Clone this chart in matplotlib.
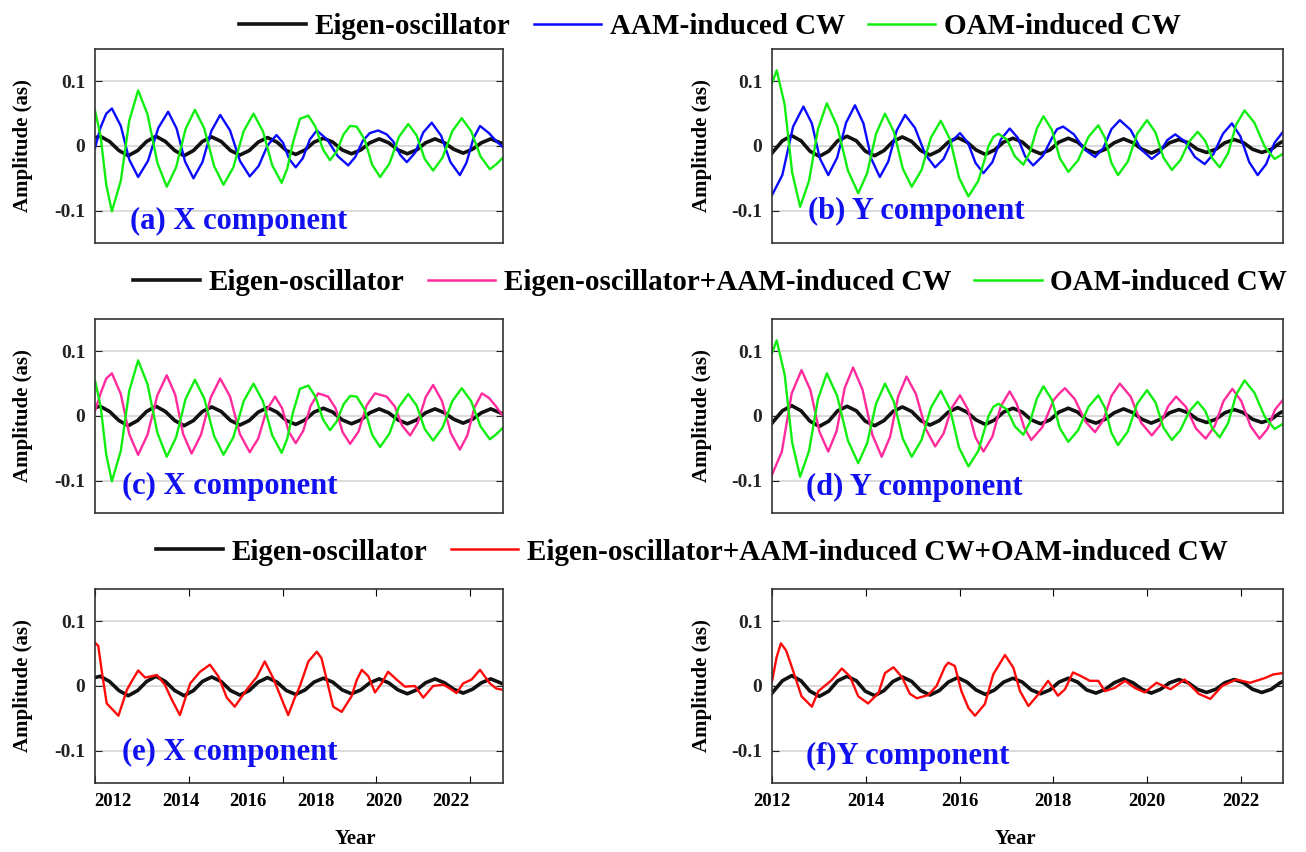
import matplotlib.pyplot as plt
from matplotlib.lines import Line2D

plt.rcParams["font.family"] = ["Liberation Serif", "DejaVu Serif"]
plt.rcParams["font.weight"] = "bold"
plt.rcParams["axes.labelweight"] = "bold"

# ---- series (year, amplitude in as) ----
eigen_x_t = [2012.00, 2012.11, 2012.31, 2012.51, 2012.71, 2012.91, 2013.10, 2013.30, 2013.50, 2013.70,
             2013.90, 2014.10, 2014.29, 2014.49, 2014.69, 2014.89, 2015.09, 2015.29, 2015.48, 2015.68,
             2015.88, 2016.08, 2016.28, 2016.48, 2016.67, 2016.87, 2017.07, 2017.27, 2017.47, 2017.67,
             2017.86, 2018.06, 2018.26, 2018.46, 2018.66, 2018.86, 2019.05, 2019.25, 2019.45, 2019.65,
             2019.85, 2020.05, 2020.24, 2020.44, 2020.64, 2020.70]
eigen_x_v = [0.013, 0.015, 0.007, -0.007, -0.015, -0.007, 0.007, 0.015, 0.007, -0.007,
             -0.015, -0.007, 0.007, 0.014, 0.007, -0.007, -0.014, -0.007, 0.006, 0.013,
             0.006, -0.007, -0.013, -0.006, 0.006, 0.012, 0.006, -0.006, -0.012, -0.006,
             0.005, 0.011, 0.005, -0.006, -0.012, -0.006, 0.005, 0.011, 0.005, -0.005,
             -0.011, -0.005, 0.005, 0.011, 0.005, 0.003]

eigen_y_t = [2012.00, 2012.22, 2012.42, 2012.62, 2012.81, 2013.01, 2013.21, 2013.40, 2013.60, 2013.80,
             2013.99, 2014.19, 2014.39, 2014.58, 2014.78, 2014.98, 2015.17, 2015.37, 2015.57, 2015.76,
             2015.96, 2016.16, 2016.35, 2016.55, 2016.75, 2016.94, 2017.14, 2017.34, 2017.53, 2017.73,
             2017.93, 2018.12, 2018.32, 2018.52, 2018.71, 2018.91, 2019.11, 2019.30, 2019.50, 2019.70,
             2019.89, 2020.09, 2020.29, 2020.48, 2020.68, 2020.88, 2021.07, 2021.27, 2021.47, 2021.66,
             2021.86, 2022.06, 2022.25, 2022.45, 2022.65, 2022.84, 2022.90]
eigen_y_v = [-0.011, 0.008, 0.016, 0.008, -0.008, -0.016, -0.008, 0.008, 0.015, 0.008,
             -0.008, -0.015, -0.007, 0.007, 0.014, 0.007, -0.007, -0.014, -0.007, 0.006,
             0.013, 0.006, -0.006, -0.013, -0.006, 0.006, 0.012, 0.006, -0.006, -0.012,
             -0.006, 0.006, 0.012, 0.006, -0.006, -0.011, -0.005, 0.005, 0.011, 0.005,
             -0.005, -0.011, -0.005, 0.005, 0.010, 0.005, -0.005, -0.010, -0.005, 0.005,
             0.010, 0.005, -0.005, -0.010, -0.005, 0.005, 0.007]

aam_x_t = [2012.00, 2012.12, 2012.24, 2012.36, 2012.55, 2012.73, 2012.92, 2013.13, 2013.35, 2013.56,
           2013.74, 2013.92, 2014.10, 2014.29, 2014.48, 2014.67, 2014.88, 2015.09, 2015.30, 2015.49,
           2015.68, 2015.87, 2016.01, 2016.14, 2016.28, 2016.43, 2016.58, 2016.73, 2016.95, 2017.18,
           2017.40, 2017.55, 2017.71, 2017.86, 2018.04, 2018.22, 2018.36, 2018.51, 2018.65, 2018.83,
           2019.00, 2019.18, 2019.38, 2019.58, 2019.78, 2019.92, 2020.07, 2020.21, 2020.40, 2020.55,
           2020.70]
aam_x_v = [-0.003, 0.029, 0.050, 0.058, 0.031, -0.021, -0.048, -0.023, 0.028, 0.053,
           0.027, -0.024, -0.050, -0.025, 0.023, 0.048, 0.024, -0.023, -0.047, -0.031,
           0.001, 0.017, 0.005, -0.020, -0.033, -0.019, 0.010, 0.024, 0.010, -0.016,
           -0.030, -0.017, 0.008, 0.020, 0.024, 0.018, 0.007, -0.014, -0.025, -0.010,
           0.021, 0.036, 0.016, -0.025, -0.045, -0.026, 0.012, 0.031, 0.020, 0.008,
           -0.002]

oam_x_t = [2012.00, 2012.12, 2012.24, 2012.36, 2012.55, 2012.73, 2012.92, 2013.12, 2013.33, 2013.53,
           2013.73, 2013.93, 2014.13, 2014.33, 2014.54, 2014.74, 2014.95, 2015.17, 2015.38, 2015.58,
           2015.78, 2015.98, 2016.10, 2016.22, 2016.37, 2016.55, 2016.70, 2016.86, 2017.01, 2017.15,
           2017.30, 2017.44, 2017.58, 2017.75, 2017.91, 2018.08, 2018.28, 2018.48, 2018.68, 2018.86,
           2019.03, 2019.21, 2019.41, 2019.62, 2019.82, 2020.02, 2020.22, 2020.42, 2020.56, 2020.70]
oam_x_v = [0.055, 0.015, -0.060, -0.101, -0.054, 0.039, 0.086, 0.049, -0.026, -0.063,
           -0.033, 0.026, 0.056, 0.027, -0.031, -0.060, -0.033, 0.023, 0.050, 0.023,
           -0.030, -0.057, -0.035, 0.005, 0.042, 0.047, 0.030, -0.005, -0.022, -0.009,
           0.018, 0.031, 0.030, 0.010, -0.029, -0.048, -0.027, 0.014, 0.034, 0.016,
           -0.020, -0.038, -0.018, 0.023, 0.043, 0.023, -0.016, -0.036, -0.028, -0.018]

eig_aam_x_t = [2012.00, 2012.12, 2012.24, 2012.36, 2012.55, 2012.73, 2012.92, 2013.12, 2013.33, 2013.53,
               2013.71, 2013.88, 2014.06, 2014.26, 2014.47, 2014.67, 2014.88, 2015.09, 2015.30, 2015.48,
               2015.66, 2015.84, 2015.99, 2016.13, 2016.28, 2016.44, 2016.60, 2016.76, 2016.97, 2017.13,
               2017.28, 2017.44, 2017.62, 2017.79, 2017.97, 2018.22, 2018.39, 2018.55, 2018.72, 2018.88,
               2019.05, 2019.21, 2019.40, 2019.59, 2019.78, 2019.94, 2020.09, 2020.25, 2020.40, 2020.55,
               2020.70]
eig_aam_x_v = [0.008, 0.035, 0.058, 0.066, 0.034, -0.028, -0.060, -0.029, 0.032, 0.063,
               0.033, -0.028, -0.058, -0.029, 0.029, 0.058, 0.030, -0.028, -0.056, -0.035,
               0.009, 0.030, 0.012, -0.024, -0.042, -0.023, 0.016, 0.035, 0.030, 0.012,
               -0.025, -0.043, -0.024, 0.016, 0.035, 0.030, 0.015, -0.015, -0.030, -0.011,
               0.029, 0.048, 0.023, -0.027, -0.052, -0.030, 0.013, 0.035, 0.028, 0.015,
               0.000]

total_x_t = [2012.00, 2012.07, 2012.15, 2012.25, 2012.50, 2012.68, 2012.78, 2012.92, 2013.07, 2013.32,
             2013.49, 2013.63, 2013.81, 2014.03, 2014.24, 2014.45, 2014.63, 2014.81, 2014.98, 2015.23,
             2015.45, 2015.62, 2015.80, 2016.12, 2016.25, 2016.37, 2016.55, 2016.73, 2016.83, 2016.94,
             2017.08, 2017.26, 2017.47, 2017.58, 2017.69, 2017.83, 2017.97, 2018.11, 2018.25, 2018.43,
             2018.61, 2018.82, 2019.00, 2019.21, 2019.43, 2019.57, 2019.71, 2019.85, 2020.03, 2020.21,
             2020.42, 2020.56, 2020.70]
total_x_v = [0.067, 0.062, 0.020, -0.027, -0.046, -0.006, 0.007, 0.024, 0.013, 0.017,
             0.002, -0.020, -0.045, 0.004, 0.022, 0.033, 0.015, -0.018, -0.032, -0.006,
             0.014, 0.038, 0.012, -0.045, -0.020, 0.000, 0.038, 0.053, 0.043, 0.010,
             -0.032, -0.040, -0.016, 0.009, 0.025, 0.015, -0.010, 0.004, 0.022, 0.010,
             -0.001, 0.000, -0.018, 0.000, 0.002, -0.004, -0.011, 0.004, 0.010, 0.025,
             0.004, -0.004, -0.006]

aam_y_t = [2012.00, 2012.22, 2012.45, 2012.67, 2012.85, 2013.02, 2013.20, 2013.39, 2013.58, 2013.77,
           2013.95, 2014.12, 2014.30, 2014.48, 2014.66, 2014.84, 2015.05, 2015.27, 2015.48, 2015.66,
           2015.83, 2016.01, 2016.18, 2016.34, 2016.51, 2016.70, 2016.88, 2017.07, 2017.24, 2017.40,
           2017.57, 2017.78, 2017.99, 2018.08, 2018.21, 2018.44, 2018.66, 2018.89, 2019.07, 2019.24,
           2019.42, 2019.65, 2019.87, 2020.10, 2020.27, 2020.43, 2020.60, 2020.81, 2021.02, 2021.23,
           2021.42, 2021.62, 2021.81, 2021.99, 2022.18, 2022.36, 2022.54, 2022.72, 2022.90]
aam_y_v = [-0.076, -0.045, 0.030, 0.061, 0.035, -0.019, -0.045, -0.018, 0.036, 0.063,
           0.035, -0.020, -0.048, -0.024, 0.024, 0.048, 0.028, -0.013, -0.033, -0.020,
           0.007, 0.020, 0.005, -0.026, -0.042, -0.025, 0.010, 0.027, 0.013, -0.016,
           -0.030, -0.015, 0.015, 0.026, 0.030, 0.018, -0.005, -0.017, -0.003, 0.026,
           0.040, 0.025, -0.005, -0.020, -0.010, 0.009, 0.018, 0.007, -0.017, -0.028,
           -0.012, 0.019, 0.035, 0.015, -0.025, -0.045, -0.028, 0.005, 0.022]

oam_y_t = [2012.00, 2012.10, 2012.27, 2012.43, 2012.60, 2012.79, 2012.98, 2013.17, 2013.39, 2013.62,
           2013.84, 2014.03, 2014.22, 2014.41, 2014.60, 2014.79, 2014.98, 2015.19, 2015.39, 2015.60,
           2015.80, 2015.99, 2016.19, 2016.40, 2016.62, 2016.72, 2016.83, 2017.01, 2017.18, 2017.36,
           2017.50, 2017.65, 2017.79, 2017.97, 2018.14, 2018.32, 2018.53, 2018.75, 2018.96, 2019.10,
           2019.24, 2019.38, 2019.59, 2019.79, 2020.00, 2020.18, 2020.35, 2020.53, 2020.71, 2020.90,
           2021.08, 2021.24, 2021.39, 2021.55, 2021.73, 2021.90, 2022.08, 2022.29, 2022.51, 2022.72,
           2022.90]
oam_y_v = [0.097, 0.117, 0.064, -0.041, -0.094, -0.054, 0.026, 0.066, 0.031, -0.038,
           -0.073, -0.042, 0.019, 0.050, 0.022, -0.035, -0.063, -0.037, 0.013, 0.039,
           0.010, -0.049, -0.078, -0.054, 0.000, 0.014, 0.019, 0.010, -0.016, -0.029,
           -0.010, 0.027, 0.046, 0.025, -0.019, -0.040, -0.022, 0.014, 0.032, 0.013,
           -0.026, -0.045, -0.024, 0.019, 0.040, 0.021, -0.018, -0.037, -0.022, 0.007,
           0.022, 0.008, -0.019, -0.033, -0.011, 0.033, 0.055, 0.036, -0.001, -0.020,
           -0.012]

eig_aam_y_t = [2012.00, 2012.21, 2012.42, 2012.63, 2012.82, 2013.01, 2013.20, 2013.38, 2013.55, 2013.73,
               2013.93, 2014.14, 2014.34, 2014.52, 2014.69, 2014.87, 2015.07, 2015.28, 2015.48, 2015.66,
               2015.83, 2016.01, 2016.18, 2016.34, 2016.51, 2016.70, 2016.88, 2017.07, 2017.22, 2017.38,
               2017.53, 2017.77, 2018.01, 2018.13, 2018.25, 2018.46, 2018.68, 2018.89, 2019.07, 2019.24,
               2019.42, 2019.65, 2019.87, 2020.10, 2020.27, 2020.45, 2020.62, 2020.83, 2021.04, 2021.25,
               2021.44, 2021.63, 2021.82, 2022.01, 2022.21, 2022.40, 2022.57, 2022.73, 2022.90]
eig_aam_y_v = [-0.091, -0.055, 0.035, 0.071, 0.040, -0.024, -0.055, -0.023, 0.043, 0.075,
               0.041, -0.029, -0.063, -0.032, 0.030, 0.061, 0.034, -0.020, -0.047, -0.027,
               0.012, 0.032, 0.010, -0.033, -0.055, -0.032, 0.015, 0.038, 0.019, -0.018,
               -0.037, -0.017, 0.025, 0.035, 0.043, 0.026, -0.008, -0.025, -0.006, 0.031,
               0.050, 0.030, -0.010, -0.030, -0.015, 0.015, 0.030, 0.014, -0.019, -0.035,
               -0.016, 0.023, 0.042, 0.023, -0.016, -0.035, -0.020, 0.010, 0.025]

total_y_t = [2012.00, 2012.10, 2012.19, 2012.30, 2012.42, 2012.63, 2012.85, 2012.99, 2013.27, 2013.49,
             2013.66, 2013.84, 2014.05, 2014.27, 2014.41, 2014.59, 2014.77, 2014.94, 2015.09, 2015.33,
             2015.51, 2015.69, 2015.76, 2015.90, 2016.04, 2016.19, 2016.33, 2016.54, 2016.72, 2016.97,
             2017.15, 2017.29, 2017.47, 2017.68, 2017.89, 2018.10, 2018.25, 2018.42, 2018.60, 2018.78,
             2018.96, 2019.10, 2019.31, 2019.53, 2019.74, 2019.95, 2020.20, 2020.50, 2020.80, 2021.10,
             2021.35, 2021.60, 2021.90, 2022.20, 2022.50, 2022.70, 2022.90]
total_y_v = [0.007, 0.045, 0.066, 0.055, 0.030, -0.016, -0.032, -0.008, 0.009, 0.027,
             0.015, -0.016, -0.027, -0.011, 0.020, 0.029, 0.014, -0.012, -0.019, -0.014,
             0.000, 0.030, 0.036, 0.031, -0.008, -0.034, -0.046, -0.028, 0.018, 0.048,
             0.028, -0.008, -0.031, -0.013, 0.008, -0.015, -0.005, 0.021, 0.015, 0.008,
             0.008, -0.008, -0.003, 0.008, -0.003, -0.010, 0.005, -0.005, 0.010, -0.012,
             -0.020, 0.000, 0.010, 0.005, 0.012, 0.018, 0.020]

panel_titles = ["(a) X component", "(b) Y component", "(c) X component",
                "(d) Y component", "(e) X component", "(f)Y component"]
legend_rows = [
    ["Eigen-oscillator", "AAM-induced CW", "OAM-induced CW"],
    ["Eigen-oscillator", "Eigen-oscillator+AAM-induced CW", "OAM-induced CW"],
    ["Eigen-oscillator", "Eigen-oscillator+AAM-induced CW+OAM-induced CW"],
]
tick_years_left = [2012, 2014, 2016, 2018, 2020]
label_years = [2012, 2014, 2016, 2018, 2020, 2022]

BLACK = "#111111"
BLUE = "#0a0aff"
GREEN = "#10ee10"
PINK = "#ff2a9c"
RED = "#ff0a0a"
LABEL_BLUE = "#1010f0"

W, H = 1306, 852
fig = plt.figure(figsize=(W / 100, H / 100), dpi=100)

col_left = [95, 772]
col_width = [408, 511]
col_xmax = [2020.70, 2022.90]
row_bottom = [243, 513, 783]
row_height = 194

axes = []
for r in range(3):
    for c in range(2):
        ax = fig.add_axes([col_left[c] / W, 1 - row_bottom[r] / H,
                           col_width[c] / W, row_height / H])
        axes.append(ax)

series = {
    0: [(eigen_x_t, eigen_x_v, BLACK, 2.6), (aam_x_t, aam_x_v, BLUE, 1.7), (oam_x_t, oam_x_v, GREEN, 1.7)],
    1: [(eigen_y_t, eigen_y_v, BLACK, 2.6), (aam_y_t, aam_y_v, BLUE, 1.7), (oam_y_t, oam_y_v, GREEN, 1.7)],
    2: [(eigen_x_t, eigen_x_v, BLACK, 2.6), (eig_aam_x_t, eig_aam_x_v, PINK, 1.7), (oam_x_t, oam_x_v, GREEN, 1.7)],
    3: [(eigen_y_t, eigen_y_v, BLACK, 2.6), (eig_aam_y_t, eig_aam_y_v, PINK, 1.7), (oam_y_t, oam_y_v, GREEN, 1.7)],
    4: [(eigen_x_t, eigen_x_v, BLACK, 2.6), (total_x_t, total_x_v, RED, 1.7)],
    5: [(eigen_y_t, eigen_y_v, BLACK, 2.6), (total_y_t, total_y_v, RED, 1.7)],
}

title_pos = [(0.086, 0.11), (0.07, 0.16), (0.066, 0.135),
             (0.067, 0.13), (0.066, 0.155), (0.067, 0.135)]
ylabel_x = [-0.152, -0.118]
xlabel_x = [0.637, 0.476]


# the left-column year labels run on their own scale (2012 -> 2022 across the panel)
def left_to_label(t):
    return 2012 + (t - 2012.384) / 0.7207


def label_to_left(y):
    return 2012.384 + (y - 2012) * 0.7207


for i, ax in enumerate(axes):
    c = i % 2
    r = i // 2
    for t, v, color, lw in series[i]:
        ax.plot(t, v, color=color, lw=lw, solid_joinstyle="round")
    ax.set_xlim(2012, col_xmax[c])
    ax.set_ylim(-0.15, 0.15)
    ax.set_yticks([-0.1, 0, 0.1])
    ax.set_yticklabels(["-0.1", "0", "0.1"])
    ax.grid(axis="y", color="#d4d4d4", lw=1.2)
    ax.set_axisbelow(True)
    ax.tick_params(axis="y", direction="in", left=True, right=True, length=5,
                   labelsize=14, pad=7, colors="#222222")
    for s in ax.spines.values():
        s.set_color("#333333")
        s.set_linewidth(1.2)
    if r == 2:
        ax.tick_params(axis="x", direction="in", top=True, bottom=True, length=5,
                       labelsize=13.5, pad=7)
        if c == 0:
            ax.set_xticks(tick_years_left)
            ax.tick_params(axis="x", labelbottom=False)
            sec = ax.secondary_xaxis("bottom", functions=(left_to_label, label_to_left))
            sec.set_xticks(label_years)
            sec.tick_params(axis="x", length=0, labelsize=13.5, pad=7)
            for lab in sec.get_xticklabels():
                lab.set_fontweight("bold")
            sec.spines["bottom"].set_visible(False)
        else:
            ax.set_xticks(label_years)
        ax.set_xlabel("Year", fontsize=15)
        ax.xaxis.set_label_coords(xlabel_x[c], -0.235)
    else:
        ax.set_xticks([])
    ax.set_ylabel("Amplitude (as)", fontsize=15)
    ax.yaxis.set_label_coords(ylabel_x[c], 0.5)
    tx, ty = title_pos[i]
    ax.text(tx, ty, panel_titles[i], transform=ax.transAxes, color=LABEL_BLUE,
            fontsize=22, fontweight="bold", va="center", ha="left")

row_colors = [[BLACK, BLUE, GREEN], [BLACK, PINK, GREEN], [BLACK, RED]]
legend_centers = [(710, 27), (710, 283), (692, 552)]
for labels, colors, (lx, ly) in zip(legend_rows, row_colors, legend_centers):
    handles = [Line2D([], [], color=col, lw=2.6 if col == BLACK else 1.8) for col in colors]
    fig.legend(handles, labels, loc="center", bbox_to_anchor=(lx / W, 1 - ly / H),
               ncol=len(labels), frameon=False, fontsize=21, handlelength=2.3,
               handletextpad=0.3, columnspacing=0.8)

fig.savefig("out.png", dpi=100)
